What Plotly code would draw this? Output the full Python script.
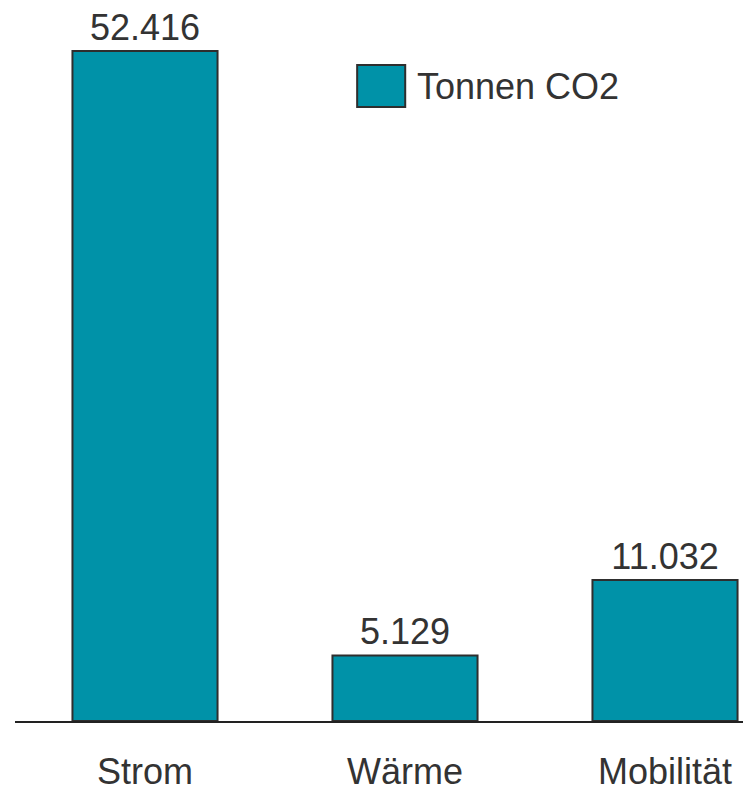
import plotly.graph_objects as go

# CO2-Emissionen nach Sektor (Tonnen)
sektoren = ["Strom", "Wärme", "Mobilität"]
tonnen_co2 = [52416, 5129, 11032]
serie = "Tonnen CO2"

FILL = "#0092a8"
EDGE = "#2e2e2e"
TEXT = "#333333"
FONT = "Liberation Sans, Arial, sans-serif"
SIZE = 36

fig = go.Figure()
fig.add_trace(go.Bar(
    x=sektoren,
    y=tonnen_co2,
    name=serie,
    marker=dict(color=FILL, line=dict(color=EDGE, width=2)),
    texttemplate="%{y:,}",
    textposition="outside",
    textfont=dict(family=FONT, size=SIZE, color=TEXT),
    cliponaxis=False,
    showlegend=False,
))

# Legende als Farbfeld mit Beschriftung
fig.add_shape(type="rect", xref="paper", yref="paper",
              x0=0.470, x1=0.536, y0=0.8636, y1=0.9226,
              fillcolor=FILL, line=dict(color=EDGE, width=2))
fig.add_annotation(xref="paper", yref="paper", x=0.550, y=0.893,
                   xanchor="left", yanchor="middle", showarrow=False,
                   text=serie, font=dict(family=FONT, size=SIZE, color=TEXT))

fig.update_layout(
    width=743, height=795,
    margin=dict(l=15, r=0, t=10, b=74, autoexpand=False),
    paper_bgcolor="white", plot_bgcolor="white",
    separators=",.",
    bargap=0.442,
    font=dict(family=FONT, size=SIZE, color=TEXT),
    xaxis=dict(range=[-0.5, 2.3], showline=True, linecolor="#222222",
               linewidth=2, ticks="", showgrid=False, zeroline=False,
               automargin=False, ticklabelstandoff=18,
               tickfont=dict(family=FONT, size=SIZE, color=TEXT)),
    yaxis=dict(range=[0, 55620], visible=False, showgrid=False,
               zeroline=False, automargin=False),
)

fig.write_html("out.html")
